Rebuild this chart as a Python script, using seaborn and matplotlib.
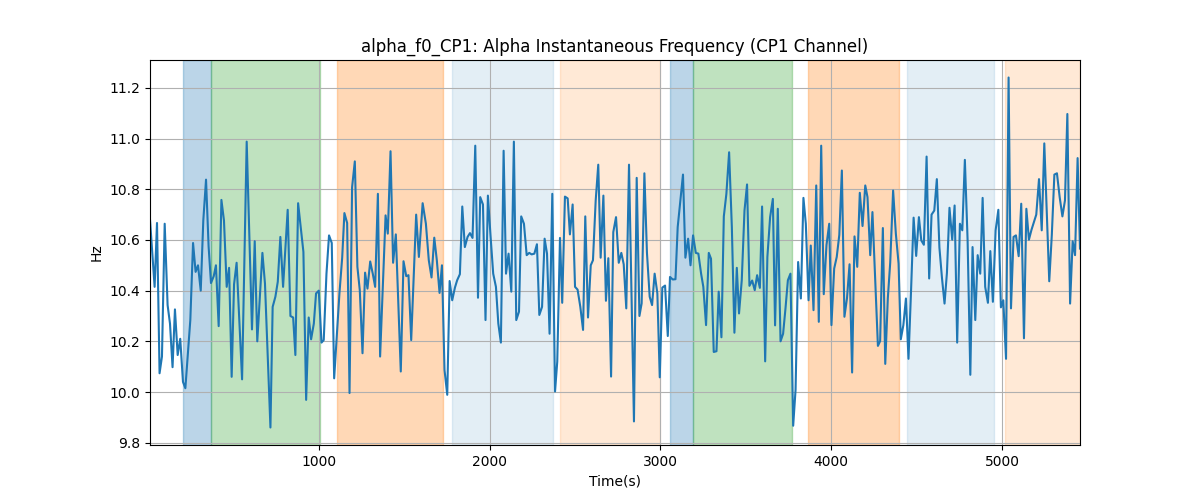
import numpy as np
import pandas as pd
import matplotlib
matplotlib.use("Agg")
import matplotlib.pyplot as plt
import seaborn as sns

# --- data ---
times = [
    12, 39, 53, 68, 82, 98, 115, 129, 144, 158, 174, 189, 205, 219, 248, 264, 279, 293, 309, 324,
    340, 355, 369, 385, 398, 414, 430, 445, 461, 475, 490, 504, 519, 551, 578, 609, 625, 640, 670, 685,
    717, 730, 746, 760, 775, 791, 818, 834, 850, 863, 879, 910, 926, 941, 955, 971, 984, 1000, 1016, 1029,
    1045, 1060, 1076, 1090, 1121, 1137, 1150, 1166, 1180, 1195, 1211, 1226, 1240, 1256, 1271, 1285, 1301, 1316, 1330, 1346,
    1359, 1391, 1404, 1420, 1435, 1451, 1480, 1496, 1512, 1525, 1541, 1570, 1586, 1608, 1627, 1644, 1660, 1676, 1691, 1707,
    1721, 1736, 1752, 1766, 1781, 1797, 1810, 1826, 1840, 1855, 1871, 1885, 1900, 1916, 1932, 1945, 1961, 1976, 1990, 2005,
    2021, 2037, 2051, 2066, 2082, 2096, 2111, 2127, 2142, 2156, 2172, 2185, 2201, 2217, 2232, 2246, 2262, 2277, 2291, 2307,
    2322, 2336, 2351, 2367, 2383, 2396, 2412, 2425, 2441, 2457, 2470, 2486, 2500, 2515, 2531, 2547, 2560, 2576, 2592, 2605,
    2621, 2636, 2650, 2666, 2681, 2695, 2711, 2724, 2740, 2756, 2771, 2785, 2800, 2816, 2830, 2845, 2861, 2877, 2890, 2906,
    2921, 2937, 2951, 2966, 2982, 2996, 3011, 3027, 3043, 3056, 3072, 3088, 3101, 3117, 3132, 3146, 3162, 3176, 3191, 3207,
    3222, 3238, 3251, 3267, 3283, 3296, 3312, 3328, 3341, 3357, 3371, 3386, 3402, 3418, 3433, 3447, 3460, 3476, 3492, 3507,
    3521, 3537, 3552, 3566, 3582, 3595, 3613, 3626, 3642, 3658, 3671, 3687, 3703, 3718, 3732, 3746, 3761, 3777, 3791, 3806,
    3822, 3837, 3851, 3867, 3880, 3896, 3912, 3927, 3941, 3956, 3972, 3988, 4001, 4017, 4032, 4047, 4062, 4077, 4092, 4107,
    4122, 4136, 4152, 4167, 4183, 4199, 4212, 4228, 4241, 4257, 4273, 4286, 4302, 4316, 4331, 4345, 4362, 4378, 4394, 4407,
    4422, 4437, 4452, 4467, 4482, 4497, 4513, 4527, 4542, 4558, 4573, 4587, 4603, 4618, 4633, 4648, 4663, 4677, 4692, 4708,
    4722, 4737, 4753, 4767, 4782, 4798, 4814, 4827, 4843, 4857, 4872, 4886, 4901, 4917, 4931, 4946, 4962, 4978, 4993, 5007,
    5023, 5038, 5052, 5067, 5081, 5097, 5112, 5128, 5142, 5157, 5172, 5186, 5200, 5216, 5232, 5247, 5262, 5276, 5291, 5306,
    5321, 5337, 5353, 5368, 5382, 5398, 5413, 5427, 5442, 5456,
]
freq_hz = [
    10.68, 10.415, 10.667, 10.074, 10.14, 10.664, 10.343, 10.27, 10.098, 10.326, 10.146, 10.21, 10.04, 10.015, 10.284, 10.588, 10.474, 10.50, 10.40, 10.677,
    10.838, 10.575, 10.43, 10.457, 10.50, 10.26, 10.758, 10.677, 10.415, 10.49, 10.06, 10.425, 10.51, 10.05, 10.988, 10.247, 10.595, 10.20, 10.549, 10.428,
    9.86, 10.336, 10.376, 10.435, 10.612, 10.415, 10.719, 10.30, 10.294, 10.146, 10.745, 10.553, 9.969, 10.294, 10.208, 10.27, 10.389, 10.40, 10.195, 10.205,
    10.467, 10.618, 10.588, 10.054, 10.39, 10.53, 10.706, 10.667, 9.996, 10.808, 10.91, 10.494, 10.402, 10.153, 10.471, 10.408, 10.515, 10.467, 10.415, 10.782,
    10.14, 10.697, 10.625, 10.95, 10.51, 10.622, 10.081, 10.516, 10.457, 10.461, 10.205, 10.70, 10.533, 10.745, 10.664, 10.52, 10.452, 10.609, 10.52, 10.391,
    10.50, 10.087, 9.989, 10.438, 10.362, 10.412, 10.441, 10.465, 10.732, 10.572, 10.612, 10.627, 10.608, 10.972, 10.372, 10.769, 10.74, 10.284, 10.775, 10.62,
    10.467, 10.415, 10.27, 10.195, 10.952, 10.467, 10.546, 10.396, 10.988, 10.284, 10.317, 10.693, 10.664, 10.54, 10.549, 10.543, 10.546, 10.583, 10.304, 10.336,
    10.605, 10.546, 10.23, 10.782, 10.002, 10.12, 10.608, 10.352, 10.771, 10.764, 10.622, 10.74, 10.415, 10.404, 10.336, 10.245, 10.693, 10.294, 10.50, 10.52,
    10.756, 10.897, 10.53, 10.775, 10.36, 10.528, 10.061, 10.631, 10.69, 10.51, 10.549, 10.504, 10.33, 10.897, 10.40, 9.884, 10.845, 10.30, 10.35, 10.863,
    10.55, 10.376, 10.343, 10.467, 10.389, 10.058, 10.412, 10.42, 10.221, 10.454, 10.444, 10.445, 10.651, 10.756, 10.858, 10.53, 10.605, 10.50, 10.618, 10.549,
    10.546, 10.467, 10.415, 10.264, 10.549, 10.526, 10.158, 10.161, 10.396, 10.216, 10.693, 10.782, 10.946, 10.65, 10.234, 10.49, 10.31, 10.441, 10.716, 10.819,
    10.419, 10.44, 10.402, 10.461, 10.411, 10.732, 10.121, 10.533, 10.69, 10.762, 10.263, 10.723, 10.20, 10.23, 10.33, 10.441, 10.467, 9.867, 10.009, 10.513,
    10.369, 10.766, 10.664, 10.362, 10.578, 10.323, 10.815, 10.277, 10.972, 10.386, 10.58, 10.664, 10.264, 10.487, 10.533, 10.62, 10.874, 10.297, 10.37, 10.504,
    10.077, 10.614, 10.494, 10.786, 10.655, 10.815, 10.769, 10.54, 10.71, 10.45, 10.182, 10.201, 10.647, 10.111, 10.37, 10.51, 10.795, 10.625, 10.507, 10.208,
    10.264, 10.369, 10.131, 10.40, 10.688, 10.537, 10.69, 10.598, 10.581, 10.929, 10.448, 10.70, 10.716, 10.84, 10.57, 10.45, 10.349, 10.47, 10.727, 10.601,
    10.736, 10.195, 10.664, 10.638, 10.916, 10.60, 10.068, 10.572, 10.284, 10.54, 10.467, 10.766, 10.415, 10.352, 10.556, 10.356, 10.638, 10.719, 10.334, 10.362,
    10.131, 11.241, 10.33, 10.612, 10.618, 10.536, 10.743, 10.212, 10.723, 10.601, 10.64, 10.67, 10.70, 10.84, 10.638, 10.981, 10.70, 10.437, 10.62, 10.858,
    10.863, 10.769, 10.693, 10.756, 11.097, 10.349, 10.595, 10.54, 10.923, 10.566,
]

# shaded segments (start, end, kind)
seg_start = [203, 367, 1105, 1779, 2412, 3056, 3191, 3865, 4445, 5019]
seg_end = [367, 1006, 1727, 2371, 2995, 3191, 3771, 4398, 4955, 5456]
seg_kind = ["blue", "green", "orange", "lightblue", "lightorange",
            "blue", "green", "orange", "lightblue", "lightorange"]

kind_style = {
    "blue": ("tab:blue", 0.3),
    "green": ("tab:green", 0.3),
    "orange": ("tab:orange", 0.3),
    "lightblue": ("tab:blue", 0.12),
    "lightorange": ("tab:orange", 0.17),
}

df = pd.DataFrame({"Time(s)": times, "Hz": freq_hz})

fig, ax = plt.subplots(figsize=(12, 5), dpi=100)

for s, e, k in zip(seg_start, seg_end, seg_kind):
    c, a = kind_style[k]
    ax.axvspan(s, e, color=c, alpha=a)

sns.lineplot(data=df, x="Time(s)", y="Hz", ax=ax, color="tab:blue",
             linewidth=1.5, estimator=None, sort=False)

ax.set_xlim(df["Time(s)"].min(), df["Time(s)"].max())
ax.grid(True)
ax.set_title("alpha_f0_CP1: Alpha Instantaneous Frequency (CP1 Channel)")
ax.set_xlabel("Time(s)")
ax.set_ylabel("Hz")

plt.savefig("out.png", dpi=100)
plt.close()
